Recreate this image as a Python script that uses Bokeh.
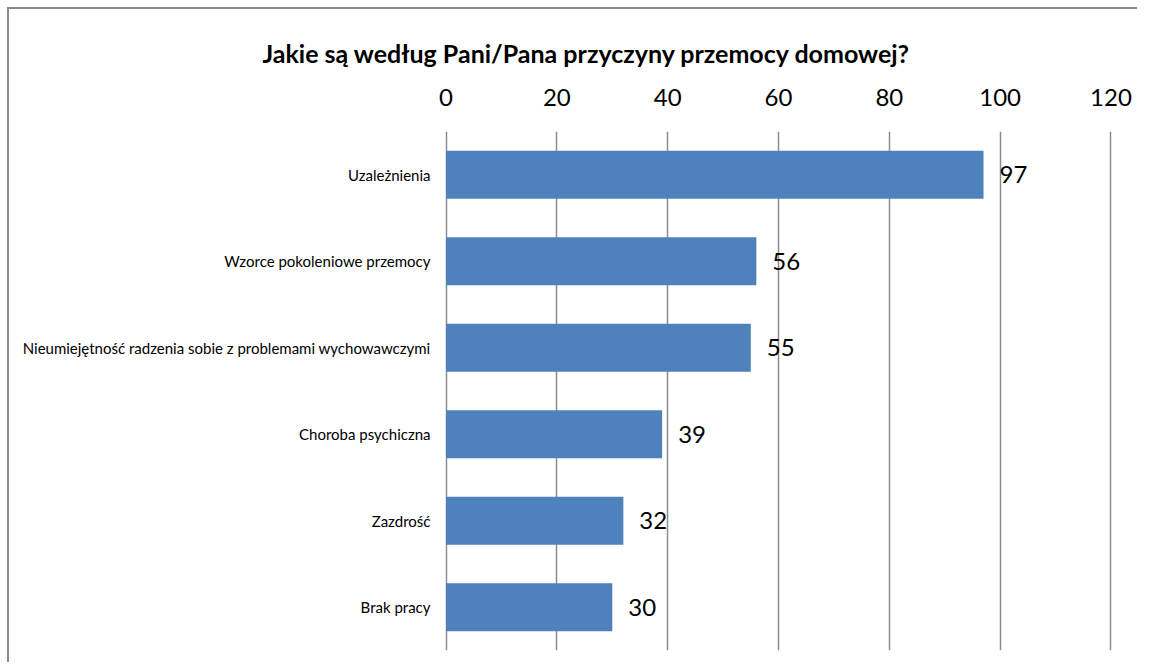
from bokeh.plotting import figure
from bokeh.models import FactorRange, Range1d, FixedTicker, ColumnDataSource
from bokeh.core.properties import value
from bokeh.embed import file_html
from bokeh.resources import INLINE

title_text = "Jakie są według Pani/Pana przyczyny przemocy domowej?"
categories = ["Uzależnienia", "Wzorce pokoleniowe przemocy",
              "Nieumiejętność radzenia sobie z problemami wychowawczymi",
              "Choroba psychiczna", "Zazdrość", "Brak pracy"]
values = [97, 56, 55, 39, 32, 30]
ticks = [0, 20, 40, 60, 80, 100, 120]

FONT = "Lato"

src = ColumnDataSource(dict(cat=categories, val=values, lab=[str(v) for v in values]))

p = figure(width=1130, height=655, output_backend="svg", toolbar_location=None,
           x_axis_location="above",
           y_range=FactorRange(factors=list(reversed(categories)), range_padding=0),
           x_range=Range1d(-1, 121),
           min_border_left=431, min_border_right=23, min_border_top=122, min_border_bottom=14)

p.styles = {"margin-left": "7px", "margin-top": "7px",
            "border-left": "2px solid #8a8a8a", "border-top": "2px solid #8a8a8a"}

p.title.text = title_text
p.title.text_font = FONT
p.title.text_font_size = "25px"
p.title.text_font_style = "bold"
p.title.text_color = "#000000"
p.title.align = "left"
p.title.offset = -178
p.title.standoff = 36

p.hbar(y="cat", right="val", left=0, height=0.555, source=src,
       fill_color="#4F81BD", line_color=None)
p.text(x="val", y="cat", text="lab", source=src, x_offset=16,
       text_baseline="middle", text_align="left",
       text_font=value(FONT), text_font_size="24px", text_color="#000000")

p.xaxis.ticker = FixedTicker(ticks=ticks)
p.xaxis.axis_line_color = None
p.xaxis.major_tick_line_color = None
p.xaxis.minor_tick_line_color = None
p.xaxis.major_label_text_font = FONT
p.xaxis.major_label_text_font_size = "24px"
p.xaxis.major_label_text_color = "#000000"
p.xaxis.major_label_standoff = 20

p.yaxis.axis_line_color = None
p.yaxis.major_tick_line_color = None
p.yaxis.minor_tick_line_color = None
p.yaxis.major_label_text_font = FONT
p.yaxis.major_label_text_font_size = "15px"
p.yaxis.major_label_text_color = "#000000"
p.yaxis.major_label_standoff = 4

p.xgrid.grid_line_color = "#8c8c8c"
p.xgrid.grid_line_width = 1.5
p.ygrid.grid_line_color = None
p.outline_line_color = None

open("out.html", "w").write(file_html(p, INLINE))
